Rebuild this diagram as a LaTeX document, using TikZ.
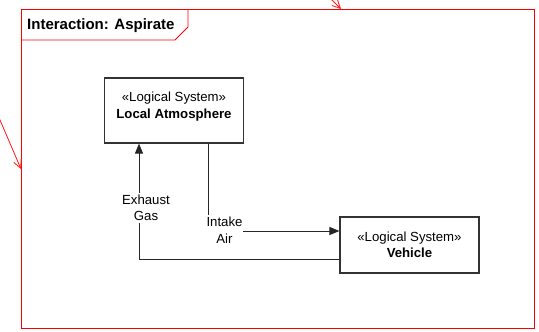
\documentclass[tikz,border=0pt]{standalone}
\usepackage{fontspec}
\setmainfont{Liberation Sans}
\usetikzlibrary{arrows.meta,calc}
\begin{document}
\begin{tikzpicture}[x=1pt,y=-1pt,
  every node/.style={font=\fontsize{13.2}{16.5}\selectfont},
  framecol/.style={draw=red, line width=0.9pt},
  sysbox/.style={draw=black!80, line width=1.1pt, minimum width=139pt, inner sep=0pt},
  flow/.style={draw=black!85, line width=0.9pt, -{Triangle[length=10pt,width=8pt]}},
  trace/.style={draw=red!90, line width=0.8pt, -{Straight Barb[length=8pt,width=8pt]}},
  flowlabel/.style={fill=white, align=center, inner xsep=1pt, inner ysep=2pt}]
\useasboundingbox (0,0) rectangle (539,332);

% interaction frame with its name tab
\draw[framecol] (21,9) rectangle (534,328);
\draw[framecol] (188,9) -- (188,27) -- (175,40) -- (21,40);
\node[anchor=base west, inner sep=0pt, font=\fontsize{15}{18}\selectfont\bfseries] (title) at (27,29.5) {Interaction: Aspirate};

% participating systems
\node[sysbox, minimum height=65pt] (la) at (174,110.5) {};
\node[align=center, inner sep=0pt] (latext) at (174,106.5) {«Logical System»\\\textbf{Local Atmosphere}};
\node[sysbox, minimum height=56pt, align=center] (veh) at (409.5,245) {«Logical System»\\\textbf{Vehicle}};

% item flows
\draw[flow] ($(veh.west)+(0,14)$) -| ($(la.south)+(-35,0)$);
\draw[flow] ($(la.south)+(34,0)$) |- ($(veh.west)+(0,-14)$);
\node[flowlabel] (exhaust) at (146,208) {Exhaust\\Gas};
\node[flowlabel] (intake) at (224.5,230) {Intake\\Air};

% incoming trace links
\coordinate (topsrc) at (320,-12);
\coordinate (topend) at (341,9);
\coordinate (leftsrc) at (-6,106);
\coordinate (leftend) at (21,169);
\draw[trace] (topsrc) -- (topend);
\draw[trace] (leftsrc) -- (leftend);
\end{tikzpicture}
\end{document}
